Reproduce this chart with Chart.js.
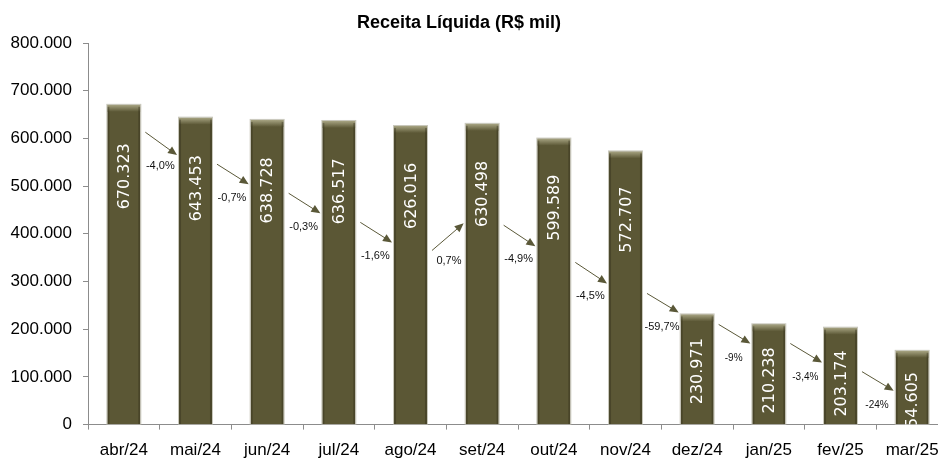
<!DOCTYPE html>
<html lang="pt-BR">
<head>
    <meta charset="UTF-8">
    <title>Receita Líquida (R$ mil)</title>
    <script src="https://cdn.jsdelivr.net/npm/chart.js"></script>
    <style>
        html, body {
            margin: 0;
            padding: 0;
            overflow: hidden;
            background: #fff;
        }
        #chart {
            display: block;
        }
    </style>
</head>
<body>
    <canvas id="chart" width="950" height="458"></canvas>

    <script>
        // dados
        const meses = ['abr/24', 'mai/24', 'jun/24', 'jul/24', 'ago/24', 'set/24',
                       'out/24', 'nov/24', 'dez/24', 'jan/25', 'fev/25', 'mar/25'];
        const receita = [670323, 643453, 638728, 636517, 626016, 630498,
                         599589, 572707, 230971, 210238, 203174, 154605];
        const variacao = ['-4,0%', '-0,7%', '-0,3%', '-1,6%', '0,7%', '-4,9%',
                          '-4,5%', '-59,7%', '-9%', '-3,4%', '-24%'];
        // altura (em R$ mil) onde cada seta começa e termina
        const setaInicio = [613000, 546000, 485000, 424000, 365000, 418000,
                            340000, 275000, 210000, 170000, 111000];
        const setaFim = [565000, 504000, 443000, 382000, 422000, 374000,
                         296000, 235000, 170000, 130000, 71000];
        const yTicks = [0, 100000, 200000, 300000, 400000, 500000, 600000, 700000, 800000];

        const COR_BARRA = '#5b5735';
        const COR_SETA = '#5a5838';
        const FONTE = "'Liberation Sans', Arial, sans-serif";

        function milhar(n) {
            return String(n).replace(/\B(?=(\d{3})+(?!\d))/g, '.');
        }

        // relevo das barras + rótulos de valor + setas
        const enfeites = {
            id: 'enfeites',
            afterDatasetsDraw(chart) {
                const ctx = chart.ctx;
                const area = chart.chartArea;
                const y = chart.scales.y;
                const bars = chart.getDatasetMeta(0).data;

                ctx.save();
                ctx.beginPath();
                ctx.rect(area.left, area.top - 10, area.right - area.left, area.bottom - area.top + 10);
                ctx.clip();

                bars.forEach(function(bar, i) {
                    const l = bar.x - bar.width / 2;
                    const h = bar.base - bar.y;
                    // topo claro
                    const g = ctx.createLinearGradient(0, bar.y, 0, bar.y + 7);
                    g.addColorStop(0, '#a7a482');
                    g.addColorStop(1, COR_BARRA);
                    ctx.fillStyle = g;
                    ctx.fillRect(l, bar.y, bar.width, 7);
                    // bordas laterais escuras
                    ctx.fillStyle = 'rgba(40,38,20,0.35)';
                    ctx.fillRect(l, bar.y + 2, 2, h - 2);
                    ctx.fillRect(l + bar.width - 2, bar.y + 2, 2, h - 2);
                    // contorno claro
                    ctx.strokeStyle = '#c9c8bc';
                    ctx.lineWidth = 1;
                    ctx.strokeRect(l - 0.5, bar.y - 0.5, bar.width + 1, h + 1);

                    // rótulo do valor, girado
                    const margem = 16 + 0.07 * h;
                    ctx.save();
                    ctx.translate(bar.x, bar.y + margem);
                    ctx.rotate(-Math.PI / 2);
                    ctx.font = "16px 'DejaVu Sans', sans-serif";
                    ctx.fillStyle = '#ffffff';
                    ctx.textAlign = 'right';
                    ctx.textBaseline = 'middle';
                    ctx.fillText(milhar(receita[i]), 0, 1);
                    ctx.restore();
                });
                ctx.restore();

                // setas entre as barras
                for (let i = 0; i < bars.length - 1; i++) {
                    const a = bars[i], b = bars[i + 1];
                    const x0 = a.x + a.width / 2 + 5;
                    const x1 = b.x - b.width / 2 - 2;
                    const y0 = y.getPixelForValue(setaInicio[i]);
                    const y1 = y.getPixelForValue(setaFim[i]);
                    const ang = Math.atan2(y1 - y0, x1 - x0);

                    ctx.save();
                    ctx.strokeStyle = COR_SETA;
                    ctx.fillStyle = COR_SETA;
                    ctx.lineWidth = 1;
                    ctx.beginPath();
                    ctx.moveTo(x0, y0);
                    ctx.lineTo(x1 - 7 * Math.cos(ang), y1 - 7 * Math.sin(ang));
                    ctx.stroke();
                    ctx.translate(x1, y1);
                    ctx.rotate(ang);
                    ctx.beginPath();
                    ctx.moveTo(0, 0);
                    ctx.lineTo(-9, -4);
                    ctx.lineTo(-9, 4);
                    ctx.closePath();
                    ctx.fill();
                    ctx.restore();

                    const sobe = y1 < y0;
                    ctx.save();
                    ctx.font = (i < 8 ? '11px ' : '10px ') + FONTE;
                    ctx.fillStyle = '#111';
                    ctx.textAlign = 'center';
                    ctx.textBaseline = 'middle';
                    ctx.fillText(variacao[i], x0 + (sobe ? 17 : 15), y0 + (sobe ? 10 : 34));
                    ctx.restore();
                }

                // título
                ctx.save();
                ctx.font = 'bold 18px ' + FONTE;
                ctx.fillStyle = '#000';
                ctx.textAlign = 'center';
                ctx.textBaseline = 'middle';
                ctx.fillText('Receita Líquida (R$ mil)', 459, 23);
                ctx.restore();
            }
        };

        new Chart(document.getElementById('chart'), {
            type: 'bar',
            data: {
                labels: meses,
                datasets: [{
                    label: 'Receita Líquida (R$ mil)',
                    data: receita,
                    backgroundColor: COR_BARRA,
                    borderWidth: 0,
                    barPercentage: 0.46,
                    categoryPercentage: 1.0
                }]
            },
            options: {
                responsive: false,
                animation: false,
                layout: {
                    padding: { top: 43, right: 2, bottom: -14, left: 0 }
                },
                plugins: {
                    legend: { display: false },
                    tooltip: { enabled: false },
                    title: { display: false }
                },
                scales: {
                    x: {
                        grid: {
                            drawOnChartArea: false,
                            tickLength: 5,
                            color: '#8c8c8c',
                            offset: true
                        },
                        border: { color: '#8c8c8c' },
                        ticks: {
                            color: '#000',
                            padding: 11,
                            maxRotation: 0,
                            autoSkip: false,
                            font: { family: FONTE, size: 17 }
                        }
                    },
                    y: {
                        min: 0,
                        max: 800000,
                        afterFit: function(scale) { scale.width = 88; },
                        afterBuildTicks: function(scale) {
                            scale.ticks = yTicks.map(function(v) { return { value: v }; });
                        },
                        grid: {
                            drawOnChartArea: false,
                            tickLength: 5,
                            color: '#8c8c8c'
                        },
                        border: { color: '#8c8c8c' },
                        ticks: {
                            color: '#000',
                            padding: 11,
                            font: { family: FONTE, size: 17 },
                            callback: function(v) { return milhar(v); }
                        }
                    }
                }
            },
            plugins: [enfeites]
        });
    </script>
</body>
</html>
